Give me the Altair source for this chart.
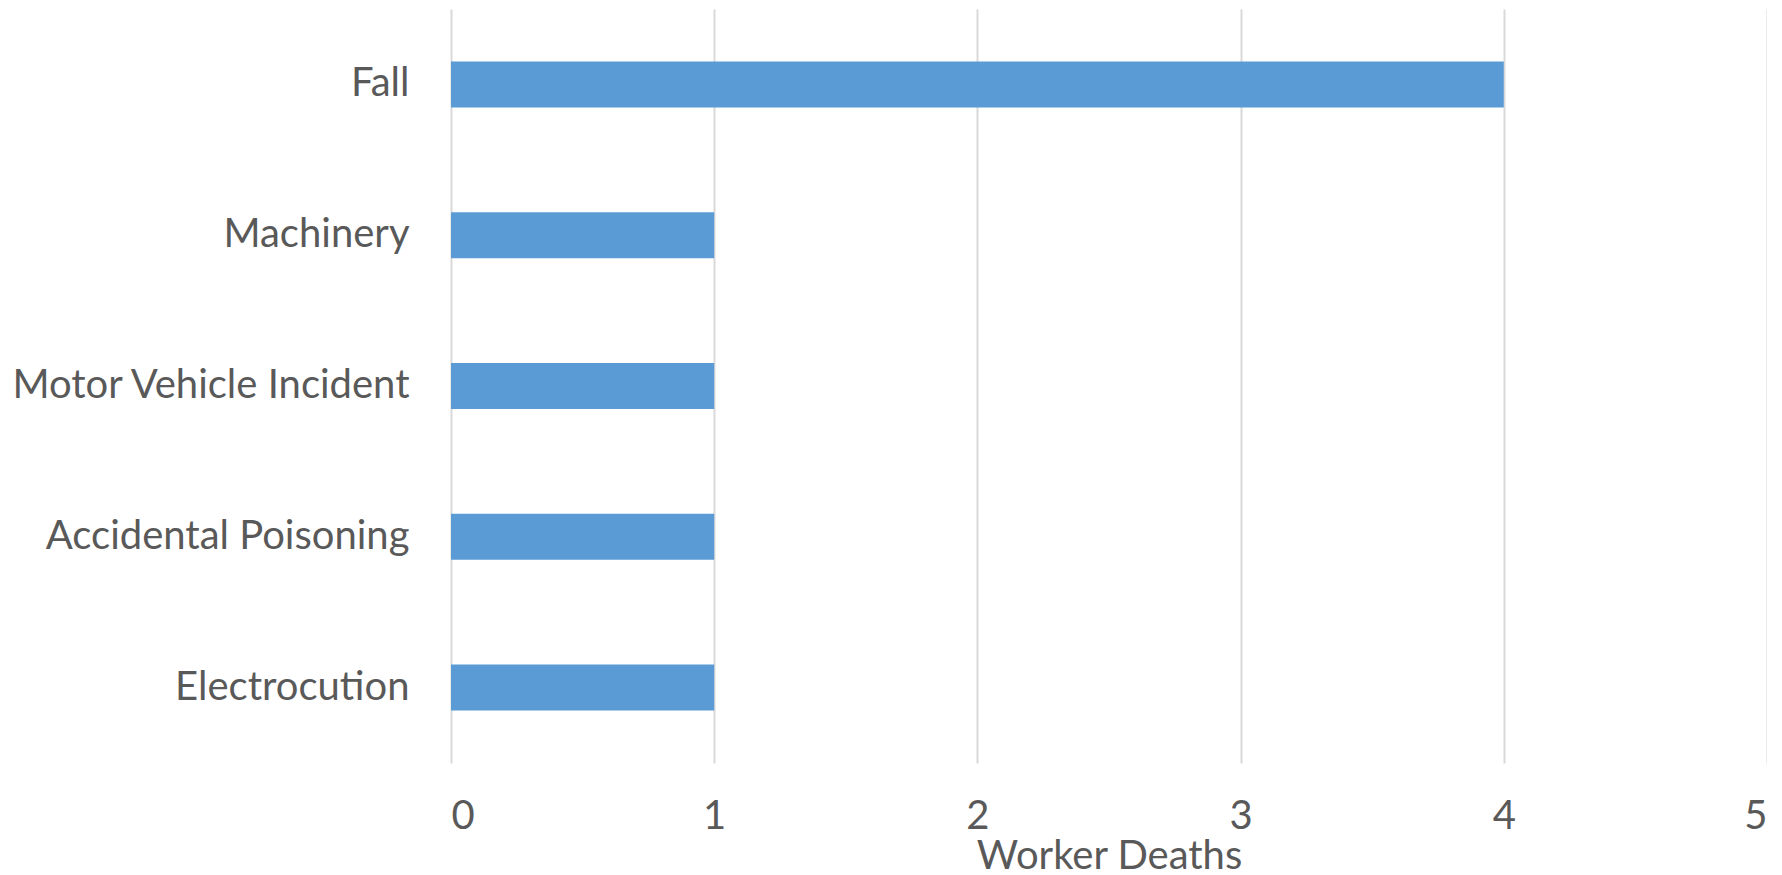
import altair as alt
import pandas as pd

categories = ["Fall", "Machinery", "Motor Vehicle Incident", "Accidental Poisoning", "Electrocution"]
deaths = [4, 1, 1, 1, 1]
x_ticks = [0, 1, 2, 3, 4, 5]

df = pd.DataFrame({"cause": categories, "deaths": deaths})

FONT = "Lato"
TEXT = "#595959"
FS = 40

chart = alt.Chart(df).mark_bar(color="#5B9BD5").encode(
    y=alt.Y("cause:N", sort=categories, title=None,
            scale=alt.Scale(paddingInner=0.695, paddingOuter=0.3475),
            axis=alt.Axis(ticks=False, domain=False, labelPadding=42, labelFontSize=FS,
                          labelFont=FONT, labelColor=TEXT, labelLimit=1000, grid=False)),
    x=alt.X("deaths:Q", title="Worker Deaths",
            scale=alt.Scale(domain=[0, 5], nice=False),
            axis=alt.Axis(values=x_ticks, format="d", ticks=False, domain=False, grid=True,
                          gridColor="#D9D9D9", gridWidth=2, labelPadding=33, labelFontSize=FS,
                          labelFont=FONT, labelColor=TEXT, titleFont=FONT, titleFontSize=FS,
                          titleColor=TEXT, titleFontWeight="normal", titlePadding=0)),
).properties(
    width=1316, height=754,
    autosize=alt.AutoSizeParams(type="none"),
    padding={"left": 443, "top": 1, "right": 0, "bottom": 112},
).configure(background="white").configure_view(strokeWidth=0, stroke="transparent")

chart.save("out.html", embed_options={"renderer": "svg", "actions": False})
